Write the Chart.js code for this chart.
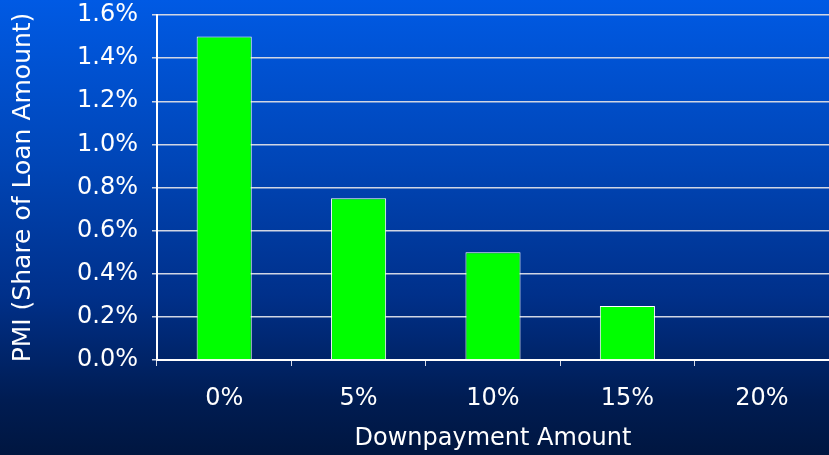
<!DOCTYPE html>
<html>
<head>
<meta charset="utf-8">
<script src="https://cdn.jsdelivr.net/npm/chart.js@4.4.0/dist/chart.umd.min.js"></script>
<style>
  html, body { margin: 0; padding: 0; }
  body {
    width: 829px;
    height: 455px;
    overflow: hidden;
    background: linear-gradient(to bottom, #005ae4 0%, #0046b8 35%, #00308a 65%, #001c52 88%, #001640 100%);
  }
  canvas { display: block; }
</style>
</head>
<body>
<canvas id="pmiChart" width="829" height="455"></canvas>
<script>
// PMI as share of loan amount, by downpayment
const downpayments = ['0%', '5%', '10%', '15%', '20%'];
const pmiRates = [1.5, 0.75, 0.5, 0.25, 0];
const yMax = 1.6;
const yStep = 0.2;

const font = "'DejaVu Sans', Verdana, sans-serif";

new Chart(document.getElementById('pmiChart'), {
    type: 'bar',
    data: {
        labels: downpayments,
        datasets: [{
            data: pmiRates,
            backgroundColor: '#00ff00',
            borderColor: '#ffffff',
            borderWidth: 1,
            barPercentage: 0.41,
            categoryPercentage: 1.0
        }]
    },
    options: {
        responsive: false,
        animation: false,
        layout: { padding: { top: 15, right: 0, left: 0, bottom: 0 } },
        plugins: {
            legend: { display: false },
            tooltip: { enabled: false }
        },
        scales: {
            x: {
                afterFit: (scale) => {
                    scale.height = 95;
                    scale.paddingRight = 0;
                },
                grid: {
                    offset: true,
                    drawOnChartArea: false,
                    drawTicks: true,
                    tickLength: 6,
                    color: '#d8dde8'
                },
                border: { color: '#ffffff', width: 2 },
                ticks: {
                    color: '#ffffff',
                    padding: 18,
                    font: { family: font, size: 24 }
                },
                title: {
                    display: true,
                    text: 'Downpayment Amount',
                    color: '#ffffff',
                    padding: { top: 0, bottom: 2 },
                    font: { family: font, size: 24 }
                }
            },
            y: {
                min: 0,
                max: yMax,
                afterFit: (scale) => {
                    scale.width = 157;
                    // let the top tick label overhang the plot edge
                    scale.paddingTop = 0;
                    scale.paddingBottom = 0;
                },
                grid: {
                    color: '#d0d6e4',
                    lineWidth: 1.5,
                    tickLength: 5
                },
                border: { color: '#ffffff', width: 2 },
                ticks: {
                    stepSize: yStep,
                    color: '#ffffff',
                    padding: 14,
                    font: { family: font, size: 24 },
                    callback: (v) => v.toFixed(1) + '%'
                },
                title: {
                    display: true,
                    text: 'PMI (Share of Loan Amount)',
                    color: '#ffffff',
                    padding: { top: 8, bottom: 0 },
                    font: { family: font, size: 25 }
                }
            }
        }
    }
});
</script>
</body>
</html>
